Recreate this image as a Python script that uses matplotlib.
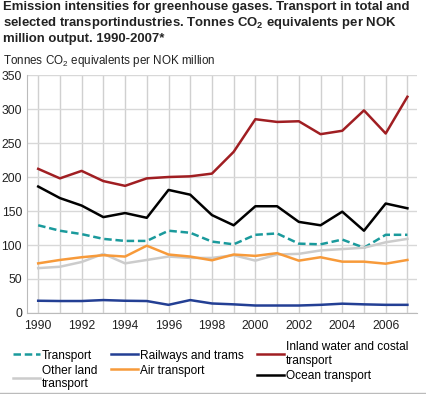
import matplotlib
matplotlib.use('Agg')
import matplotlib.pyplot as plt
from matplotlib.lines import Line2D

plt.rcParams['font.family'] = ['Liberation Sans', 'DejaVu Sans']
plt.rcParams['mathtext.fontset'] = 'custom'
plt.rcParams['mathtext.rm'] = 'Liberation Sans'
plt.rcParams['mathtext.bf'] = 'Liberation Sans:bold'

years = list(range(1990, 2008))

transport = [129, 121, 116, 109, 106, 106, 121, 118, 105, 101, 115, 117, 102, 101, 108, 96, 115, 115]
railways = [18, 17.6, 17.6, 19, 18, 17.6, 12, 19, 14, 12.7, 11, 11, 11, 12, 13.7, 12.7, 12, 12]
inland_water = [212, 198, 209, 194, 187, 198, 200, 201, 205, 237, 285, 281, 282, 263, 268, 298, 264, 318]
other_land = [66, 68, 75, 87, 73, 78, 83, 81, 81, 85, 77, 86, 87, 92, 94, 96, 104, 109]
air = [73, 78, 82, 85, 83, 99, 86, 83, 77.5, 86, 84, 88, 77, 82, 75.5, 75.5, 72.5, 78]
ocean = [186, 169, 158, 141, 147, 140, 181, 174, 144, 129, 157, 157, 134, 129, 149, 121, 161, 154]

fig = plt.figure(figsize=(4.27, 3.94), dpi=100)
ax = fig.add_axes([0.063, 0.2056, 0.914, 0.604])

ax.plot(years, transport, color='#1a9a9c', lw=1.8, ls=(0, (3, 1.5)), label='Transport')
ax.plot(years, other_land, color='#cccccc', lw=1.8, label='Other land\ntransport')
ax.plot(years, railways, color='#233f94', lw=1.8, label='Railways and trams')
ax.plot(years, air, color='#f79a3a', lw=1.8, label='Air transport')
ax.plot(years, inland_water, color='#a01e22', lw=1.8, label='Inland water and costal\ntransport')
ax.plot(years, ocean, color='#000000', lw=1.8, label='Ocean transport')

ax.set_xlim(1989.48, 2007.45)
ax.set_ylim(0, 350)
ax.set_xticks(years, minor=True)
ax.set_xticks(range(1990, 2008, 2))
ax.set_yticks(range(0, 351, 50))
ax.grid(True, which='both', axis='x', color='#d0d0d0', lw=1)
ax.grid(True, axis='y', color='#d8d8d8', lw=1)
ax.set_axisbelow(True)
for s in ['top', 'right']:
    ax.spines[s].set_visible(False)
for s in ['left', 'bottom']:
    ax.spines[s].set_color('#bbbbbb')
ax.tick_params(which='both', length=0, labelsize=8.7, colors='#222222')
ax.tick_params(axis='y', pad=3.5)
ax.tick_params(axis='x', pad=5)

fig.text(0.007, 0.997, 'Emission intensities for greenhouse gases. Transport in total and\n'
         'selected transportindustries. Tonnes CO$_\\mathbf{2}$ equivalents per NOK\n'
         'million output. 1990-2007*',
         fontsize=9.45, fontweight='bold', va='top', ha='left', linespacing=1.17, color='#222222')
fig.text(0.007, 0.845, 'Tonnes CO$_2$ equivalents per NOK million', fontsize=8.4,
         va='center', ha='left', color='#222222')

fig.legend(loc='upper left', bbox_to_anchor=(0.03, 0.134), ncol=3, frameon=False,
           fontsize=8.6, handlelength=2.3, handletextpad=0.15, columnspacing=1.1,
           labelspacing=0.25, borderaxespad=0, borderpad=0)

fig.add_artist(Line2D([0, 1], [0.003, 0.003], color='#bbbbbb', lw=1))

fig.savefig('out.png', dpi=100)
